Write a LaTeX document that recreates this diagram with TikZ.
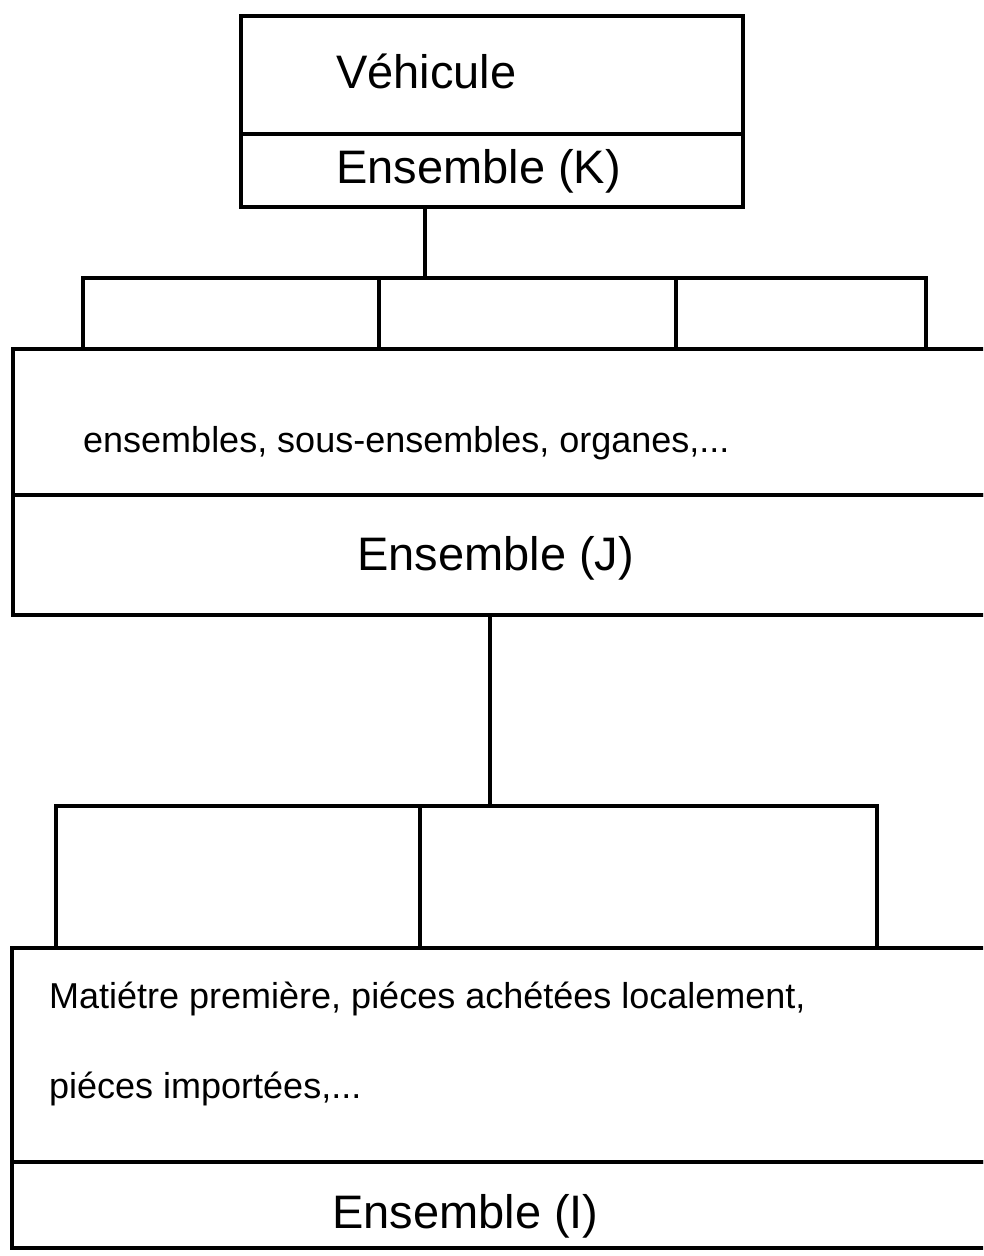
\documentclass[tikz,border=0pt]{standalone}
\usepackage{fontspec}
\setmainfont{Liberation Sans}
\begin{document}
\begin{tikzpicture}[x=1pt,y=-1pt,
  frame/.style={draw=black,line width=3.6pt,outer sep=0pt,inner sep=0pt,anchor=north west},
  bigtxt/.style={anchor=base west,inner sep=0pt,font=\fontsize{47}{56}\selectfont},
  smalltxt/.style={anchor=base west,inner sep=0pt,font=\fontsize{36}{43}\selectfont},
  link/.style={draw=black,line width=3.6pt}]
\useasboundingbox (0,0) rectangle (983,1256);
\clip (0,0) rectangle (983,1256);
\fill[white] (0,0) rectangle (983,1256);

% level K: vehicle
\node[frame,minimum width=502pt,minimum height=118pt] (veh) at (241,16) {};
\node[frame,minimum width=502pt,minimum height=73pt] (ensK) at (veh.south west) {};
\node[bigtxt] (tveh) at (336,88) {Véhicule};
\node[bigtxt] (tK) at (336,183) {Ensemble (K)};

% level J: three sub-blocks on a wide band
\node[frame,minimum width=296pt,minimum height=71pt] (j1) at (83,278) {};
\node[frame,minimum width=297pt,minimum height=71pt] (j2) at (j1.north east) {};
\node[frame,minimum width=250pt,minimum height=71pt] (j3) at (j2.north east) {};
\node[frame,minimum width=1100pt,minimum height=146pt] (bandJ) at (13,349) {};
\node[frame,minimum width=1100pt,minimum height=120pt] (ensJ) at (bandJ.south west) {};
\node[smalltxt] (tJa) at (83,452) {ensembles, sous-ensembles, organes,...};
\node[bigtxt] (tJ) at (357,570) {Ensemble (J)};

% level I: two sub-blocks on a wide band
\node[frame,minimum width=364pt,minimum height=142pt] (i1) at (56,806) {};
\node[frame,minimum width=457pt,minimum height=142pt] (i2) at (i1.north east) {};
\node[frame,minimum width=1100pt,minimum height=214pt] (bandI) at (12,948) {};
\node[frame,minimum width=1100pt,minimum height=86pt] (ensI) at (bandI.south west) {};
\node[smalltxt] (tIa) at (49,1008) {Matiétre première, piéces achétées localement,};
\node[smalltxt] (tIb) at (49,1098) {piéces importées,...};
\node[bigtxt] (tI) at (332,1228) {Ensemble (I)};

% connectors between levels
\coordinate (cK) at (425,0);
\coordinate (cJ) at (490,0);
\path[link] (cK |- ensK.south) -- (cK |- j2.north);
\path[link] (cJ |- ensJ.south) -- (cJ |- i2.north);
\end{tikzpicture}
\end{document}
